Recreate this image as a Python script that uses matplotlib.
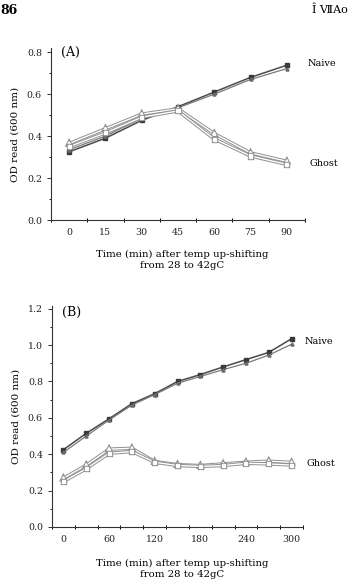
import matplotlib
matplotlib.use("Agg")
import matplotlib.pyplot as plt
import matplotlib.patheffects as pe
from matplotlib.ticker import MultipleLocator, FixedLocator

plt.rcParams['font.family'] = ['DejaVu Serif', 'DejaVu Sans']

# Panel A data
time_a = [0, 15, 30, 45, 60, 75, 90]
naive_a1 = [0.325, 0.39, 0.475, 0.54, 0.61, 0.68, 0.738]
naive_a2 = [0.335, 0.40, 0.485, 0.535, 0.60, 0.67, 0.722]
ghost_a1 = [0.365, 0.435, 0.505, 0.53, 0.412, 0.32, 0.28]
ghost_a2 = [0.35, 0.415, 0.49, 0.52, 0.386, 0.305, 0.265]
xticks_a = [0, 15, 30, 45, 60, 75, 90]

# Panel B data
time_b = [0, 30, 60, 90, 120, 150, 180, 210, 240, 270, 300]
naive_b1 = [0.425, 0.515, 0.595, 0.678, 0.733, 0.80, 0.838, 0.88, 0.92, 0.96, 1.035]
naive_b2 = [0.41, 0.50, 0.588, 0.67, 0.728, 0.79, 0.828, 0.865, 0.90, 0.945, 1.005]
ghost_b1 = [0.268, 0.34, 0.428, 0.433, 0.36, 0.343, 0.338, 0.347, 0.356, 0.362, 0.355]
ghost_b2 = [0.25, 0.32, 0.405, 0.415, 0.356, 0.338, 0.333, 0.338, 0.35, 0.347, 0.34]
xticks_b = [0, 60, 120, 180, 240, 300]

fig = plt.figure(figsize=(3.49, 5.88), dpi=100)

fig.text(0.0, 1 - 10/588, "86", fontsize=9, fontweight='bold', va='center', ha='left')
fig.text(0.995, 1 - 10/588, "Î ⅦAo", fontsize=8, va='center', ha='right')

outline = [pe.Stroke(linewidth=2.4, foreground='#8f8f8f'), pe.Stroke(linewidth=1.0, foreground='white')]


def draw(ax, t, n1, n2, g1, g2):
    ax.plot(t, n1, color='#4a4a4a', lw=1.1, marker='s', ms=2.2, mfc='#3a3a3a', mec='#3a3a3a')
    ax.plot(t, n2, color='#7a7a7a', lw=0.9, marker='^', ms=2.2, mfc='#6a6a6a', mec='#6a6a6a')
    ax.plot(t, g1, color='white', lw=0.8, marker='^', ms=2.4, mfc='white', mec='#777777', mew=0.6,
            path_effects=outline)
    ax.plot(t, g2, color='white', lw=0.8, marker='s', ms=2.2, mfc='white', mec='#999999', mew=0.6,
            path_effects=outline)


def style(ax):
    for s in ['top', 'right']:
        ax.spines[s].set_visible(False)
    for s in ['left', 'bottom']:
        ax.spines[s].set_color('#333333')
        ax.spines[s].set_linewidth(0.8)
    ax.tick_params(axis='both', labelsize=6.8, colors='#333333', labelcolor='#222222')
    ax.tick_params(axis='x', which='major', length=0, pad=6)
    ax.tick_params(axis='x', which='minor', length=2.5, direction='inout', width=0.7)
    ax.tick_params(axis='y', which='major', length=3, width=0.7)
    ax.tick_params(axis='y', which='minor', length=1.5, width=0.6)
    ax.set_ylabel("OD read (600 nm)", fontsize=7.5, labelpad=5)


# Panel A
axA = fig.add_axes([51/349, 1 - 220/588, (305 - 51)/349, (220 - 48)/588])
draw(axA, time_a, naive_a1, naive_a2, ghost_a1, ghost_a2)
axA.set_xlim(-7.5, 97.5)
axA.set_ylim(0, 0.82)
axA.set_xticks(xticks_a)
axA.xaxis.set_minor_locator(FixedLocator([-7.5 + 15*k for k in range(8)]))
axA.set_yticks([0.0, 0.2, 0.4, 0.6, 0.8])
axA.set_yticklabels(["0.0", "0.2", "0.4", "0.6", "0.8"])
axA.yaxis.set_minor_locator(MultipleLocator(0.1))
style(axA)
axA.text(0.04, 1.01, "(A)", transform=axA.transAxes, fontsize=9, va='top', ha='left')
axA.text(97.5 + 1, 0.745, "Naive", fontsize=7, va='center', ha='left', clip_on=False)
axA.text(97.5 + 2, 0.27, "Ghost", fontsize=7, va='center', ha='left', clip_on=False)
fig.text(182/349, 1 - 260/588, "Time (min) after temp up-shifting\nfrom 28 to 42gC",
         fontsize=7.3, ha='center', va='center', linespacing=1.3)

# Panel B
axB = fig.add_axes([52/349, 1 - 527/588, (303 - 52)/349, (527 - 306)/588])
draw(axB, time_b, naive_b1, naive_b2, ghost_b1, ghost_b2)
axB.set_xlim(-15, 315)
axB.set_ylim(0, 1.215)
axB.set_xticks(xticks_b)
axB.xaxis.set_minor_locator(FixedLocator([-15 + 30*k for k in range(12)]))
axB.set_yticks([0.0, 0.2, 0.4, 0.6, 0.8, 1.0, 1.2])
axB.set_yticklabels(["0.0", "0.2", "0.4", "0.6", "0.8", "1.0", "1.2"])
axB.yaxis.set_minor_locator(MultipleLocator(0.1))
style(axB)
axB.text(0.04, 1.0, "(B)", transform=axB.transAxes, fontsize=9, va='top', ha='left')
axB.text(315 + 2, 1.02, "Naive", fontsize=7, va='center', ha='left', clip_on=False)
axB.text(315 + 4, 0.35, "Ghost", fontsize=7, va='center', ha='left', clip_on=False)
fig.text(182/349, 1 - 569/588, "Time (min) after temp up-shifting\nfrom 28 to 42gC",
         fontsize=7.3, ha='center', va='center', linespacing=1.3)

fig.savefig("out.png", dpi=100)
